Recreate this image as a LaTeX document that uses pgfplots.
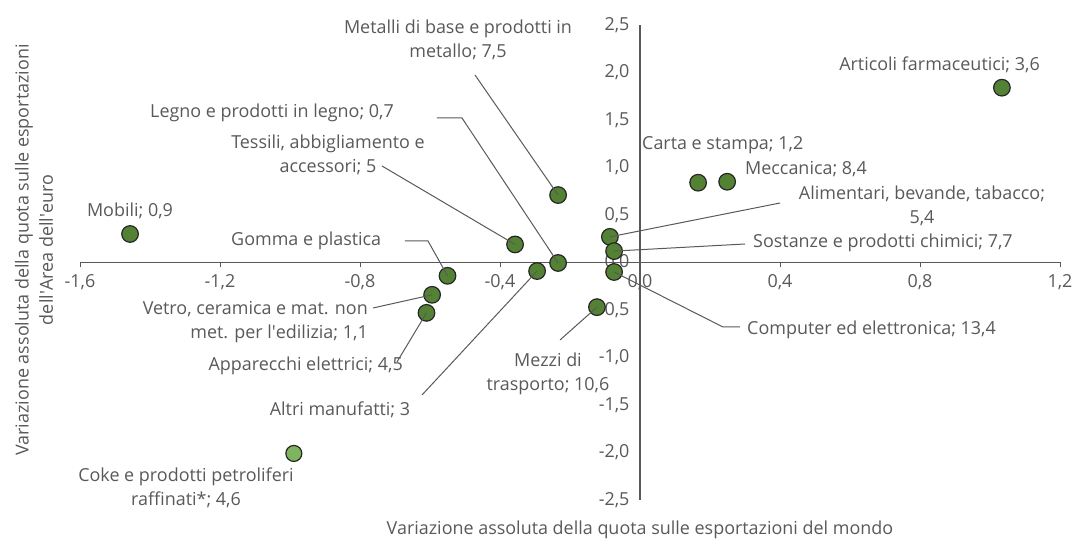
\documentclass[border=0pt]{standalone}
\usepackage{pgfplots}
\pgfplotsset{compat=1.18}
\usepackage{fontspec}
\setmainfont{Open Sans}
\definecolor{txt}{HTML}{595959}
\definecolor{axc}{HTML}{595959}
\definecolor{dotfill}{HTML}{548235}
\definecolor{dotline}{HTML}{262626}
\definecolor{cokefill}{HTML}{7FB45E}
\begin{document}
\begin{tikzpicture}[font=\fontsize{18}{24.5}\selectfont]
\useasboundingbox (-80bp,-42bp) rectangle (992bp,500bp);
\begin{axis}[
  at={(0,0)}, anchor=south west,
  scale only axis, width=980bp, height=475bp,
  xmin=-1.6, xmax=1.2, ymin=-2.5, ymax=2.5,
  axis lines=middle,
  axis line style={draw=axc, line width=1.5bp, -},
  xtick={-1.6,-1.2,-0.8,-0.4,0,0.4,0.8,1.2},
  ytick={-2.5,-2,-1.5,-1,-0.5,0,0.5,1,1.5,2,2.5},
  hide obscured x ticks=false, hide obscured y ticks=false,
  tick label style={font=\fontsize{18}{20}\selectfont, text=txt},
  /pgf/number format/use comma,
  /pgf/number format/fixed,
  /pgf/number format/fixed zerofill,
  /pgf/number format/precision=1,
  /pgf/number format/assume math mode=true,
  clip=false,
  major tick length=5bp,
  tick align=outside,
  xtick style={draw=axc, line width=1bp},
  ytick style={draw=none},
  xticklabel style={anchor=north, yshift=-3bp},
  yticklabel style={anchor=east, xshift=-2bp},
]
\addplot[only marks, mark=*, mark size=8.3bp, mark options={fill=dotfill, draw=dotline, line width=1.2bp}] coordinates {
(-1.457,0.30) (-0.61,-0.53) (-0.594,-0.34) (-0.55,-0.14) (-0.357,0.19)
(-0.294,-0.09) (-0.234,-0.005) (-0.234,0.71) (-0.123,-0.47) (-0.086,0.27)
(-0.074,0.12) (-0.074,-0.10) (0.166,0.84) (0.249,0.85) (1.034,1.84)
};
\addplot[only marks, mark=*, mark size=8bp, mark options={fill=cokefill, draw=dotline, line width=1.2bp}] coordinates {
(-0.989,-2.01)
};
\coordinate (pmet) at (axis cs:-0.234,0.71);
\coordinate (pleg) at (axis cs:-0.234,-0.005);
\coordinate (ptes) at (axis cs:-0.357,0.19);
\coordinate (pgom) at (axis cs:-0.55,-0.14);
\coordinate (pvet) at (axis cs:-0.594,-0.34);
\coordinate (papp) at (axis cs:-0.61,-0.53);
\coordinate (palt) at (axis cs:-0.294,-0.09);
\coordinate (pmez) at (axis cs:-0.123,-0.47);
\coordinate (pali) at (axis cs:-0.086,0.27);
\coordinate (psos) at (axis cs:-0.074,0.12);
\coordinate (pcom) at (axis cs:-0.074,-0.10);
\end{axis}
\begin{scope}[x=1bp, y=-1bp, shift={(-80bp,500bp)}, every node/.style={text=txt, inner sep=0pt}]
\draw[axc, line width=1bp] (475,75) -- (pmet);
\draw[axc, line width=1bp] (437,118) -- (462,118) -- (pleg);
\draw[axc, line width=1bp] (382,166) -- (ptes);
\draw[axc, line width=1bp] (405,241) -- (428,241) -- (pgom);
\draw[axc, line width=1bp] (373,308) -- (pvet);
\draw[axc, line width=1bp] (397,362) -- (papp);
\draw[axc, line width=1bp] (422,395) -- (palt);
\draw[axc, line width=1bp] (560,340) -- (pmez);
\draw[axc, line width=1bp] (780,203) -- (pali);
\draw[axc, line width=1bp] (745,244) -- (psos);
\draw[axc, line width=1bp] (740,327) -- (723,327) -- (pcom);
\node[align=center] at (458,40) {Metalli di base e prodotti in\\metallo; 7,5};
\node[anchor=east] at (1040,65) {Articoli farmaceutici; 3,6};
\node[anchor=west] at (150,113) {Legno e prodotti in legno; 0,7};
\node[align=center] at (328,155) {Tessili, abbigliamento e\\accessori; 5};
\node at (130,211) {Mobili; 0,9};
\node[anchor=west] at (231,241) {Gomma e plastica};
\node[align=right, anchor=east] at (368,322) {Vetro, ceramica e mat. non\\met. per l\textquotesingle edilizia; 1,1};
\node[anchor=east] at (403,366) {Apparecchi elettrici; 4,5};
\node at (340,410) {Altri manufatti; 3};
\node[align=center] at (186,488) {Coke e prodotti petroliferi\\raffinati*; 4,6};
\node[align=center] at (548,374) {Mezzi di\\trasporto; 10,6};
\node[anchor=west] at (747,330) {Computer ed elettronica; 13,4};
\node[anchor=west] at (753,243) {Sostanze e prodotti chimici; 7,7};
\node[align=center] at (922,206) {Alimentari, bevande, tabacco;\\5,4};
\node[anchor=west] at (745,169) {Meccanica; 8,4};
\node[anchor=west] at (642,145) {Carta e stampa; 1,2};
\node[rotate=90, align=center] at (34,250) {Variazione assoluta della quota sulle esportazioni\\dell\textquotesingle Area dell\textquotesingle euro};
\node at (640,530) {Variazione assoluta della quota sulle esportazioni del mondo};
\end{scope}
\end{tikzpicture}
\end{document}
